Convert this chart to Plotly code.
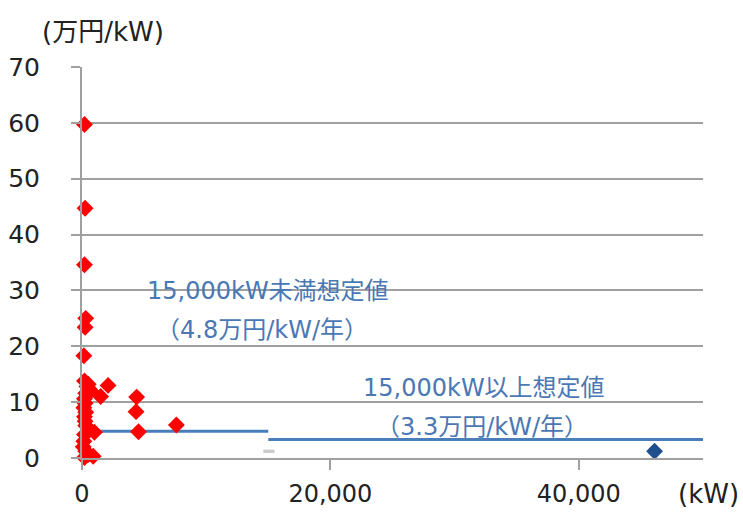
import plotly.graph_objects as go

# Unit cost per kW versus capacity (kW)
small_kw = [200, 250, 200, 300, 250, 150, 200, 500, 600, 2100, 1500, 300, 200, 250,
            150, 300, 200, 250, 300, 600, 1000, 200, 150, 100, 300, 500, 900, 200,
            4400, 4350, 4550, 7600, 700, 400]
small_cost = [59.7, 44.7, 34.6, 25.0, 23.4, 18.3, 13.8, 13.2, 12.3, 13.0, 11.0, 11.6, 10.6, 9.8,
              9.0, 8.2, 7.4, 6.6, 5.8, 5.0, 4.6, 4.2, 3.0, 2.0, 1.2, 0.6, 0.3, 0.1,
              10.9, 8.3, 4.7, 5.9, 12.0, 12.8]

large_kw = [46100]
large_cost = [1.2]

# Assumed values below / above 15,000 kW
assume_below_x = [0, 15000]
assume_below_y = [4.8, 4.8]
assume_above_x = [15000, 50000]
assume_above_y = [3.3, 3.3]

y_ticks = [0, 10, 20, 30, 40, 50, 60, 70]
x_ticks = [0, 20000, 40000]
x_tick_text = ["0", "20,000", "40,000"]

FONT = "DejaVu Sans, Noto Sans CJK JP, sans-serif"
LINE_BLUE = "#4a7ebb"
TEXT_BLUE = "#4a78b4"
TICK_SIZE = 25
NOTE_SIZE = 24

fig = go.Figure()

fig.add_trace(go.Scatter(
    x=assume_below_x, y=assume_below_y, mode="lines",
    line=dict(color=LINE_BLUE, width=3), hoverinfo="skip", cliponaxis=False))
fig.add_trace(go.Scatter(
    x=assume_above_x, y=assume_above_y, mode="lines",
    line=dict(color=LINE_BLUE, width=3), hoverinfo="skip", cliponaxis=False))

fig.add_trace(go.Scatter(
    x=small_kw, y=small_cost, mode="markers",
    marker=dict(symbol="diamond", size=13, color="#ff0000", line=dict(width=0)),
    cliponaxis=False))
fig.add_trace(go.Scatter(
    x=large_kw, y=large_cost, mode="markers",
    marker=dict(symbol="diamond", size=13, color="#1f4e8c", line=dict(width=0)),
    cliponaxis=False))

# faint grey mark at the 15,000 kW break
fig.add_shape(type="rect", x0=14600, x1=15500, y0=0.9, y1=1.5,
              fillcolor="rgba(140,140,140,0.45)", line=dict(width=0), layer="above")

fig.add_annotation(x=15000, y=29.9, text="15,000kW未満想定値", showarrow=False,
                   font=dict(family=FONT, size=NOTE_SIZE, color=TEXT_BLUE), xanchor="center")
fig.add_annotation(x=14500, y=23.0, text="（4.8万円/kW/年）", showarrow=False,
                   font=dict(family=FONT, size=NOTE_SIZE, color=TEXT_BLUE), xanchor="center")
fig.add_annotation(x=32400, y=12.5, text="15,000kW以上想定値", showarrow=False,
                   font=dict(family=FONT, size=NOTE_SIZE, color=TEXT_BLUE), xanchor="center")
fig.add_annotation(x=32200, y=5.5, text="（3.3万円/kW/年）", showarrow=False,
                   font=dict(family=FONT, size=NOTE_SIZE, color=TEXT_BLUE), xanchor="center")

fig.add_annotation(xref="paper", yref="paper", x=-0.068, y=1.0, yshift=35,
                   text="(万円/kW)", showarrow=False, xanchor="left", yanchor="middle",
                   font=dict(family=FONT, size=26, color="#222222"))
fig.add_annotation(xref="paper", yref="paper", x=1.0, y=0, yshift=-36, xshift=-27,
                   text="(kW)", showarrow=False, xanchor="left", yanchor="middle",
                   font=dict(family=FONT, size=26, color="#222222"))

fig.update_layout(
    width=743, height=513,
    margin=dict(l=82, r=40, t=67, b=55),
    paper_bgcolor="white", plot_bgcolor="white",
    showlegend=False,
    font=dict(family=FONT, size=TICK_SIZE, color="#222222"),
)
fig.update_xaxes(
    range=[0, 50000], tickvals=x_ticks, ticktext=x_tick_text,
    showgrid=False, zeroline=False, automargin=False,
    showline=True, linecolor="#a0a0a0", linewidth=2,
    ticks="outside", ticklen=10, tickwidth=2, tickcolor="#a0a0a0",
    ticklabelstandoff=3, tickfont=dict(size=24),
)
fig.update_yaxes(
    range=[0, 70], tickvals=y_ticks,
    showgrid=True, gridcolor="#a0a0a0", gridwidth=2, zeroline=False, automargin=False,
    showline=True, linecolor="#a0a0a0", linewidth=2,
    ticks="outside", ticklen=9, tickwidth=2, tickcolor="#a0a0a0",
    ticklabelstandoff=26,
)

fig.write_html("out.html")
